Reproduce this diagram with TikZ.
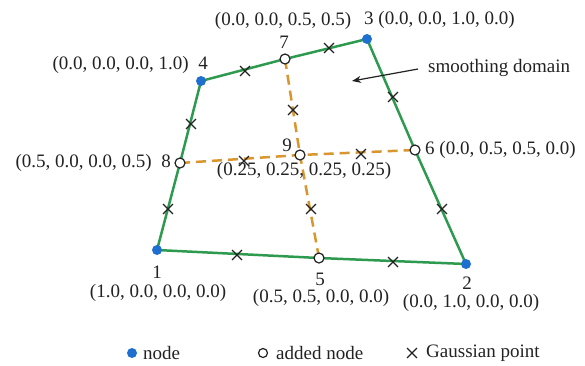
\documentclass[tikz,border=0pt]{standalone}
\usepackage{fontspec}
\setmainfont{Liberation Serif}
\usetikzlibrary{arrows.meta,shapes.misc}
\definecolor{edgegreen}{HTML}{2E9A50}
\definecolor{dashorange}{HTML}{D9962E}
\definecolor{nodeblue}{HTML}{1F6FD0}
\definecolor{txt}{HTML}{222222}
\tikzset{
  lbl/.style={inner sep=0pt, text=txt, font=\fontsize{19}{22}\selectfont},
  edgeline/.style={draw=edgegreen, line width=2.5pt},
  dashline/.style={draw=dashorange, line width=2.5pt, dash pattern=on 10pt off 6pt},
  mainpt/.style={circle, fill=nodeblue, inner sep=0pt, minimum size=10pt},
  addpt/.style={circle, draw=txt, fill=white, line width=1.2pt, inner sep=0pt, minimum size=10pt},
  gpt/.style={cross out, draw=txt, line width=1.3pt, inner sep=0pt, minimum size=8.5pt},
}
\begin{document}
\begin{tikzpicture}[x=1pt, y=-1pt]
\useasboundingbox (0,0) rectangle (585,365);
% coordinates
\coordinate (p1) at (157,250);
\coordinate (p2) at (466,264);
\coordinate (p3) at (367,39);
\coordinate (p4) at (201,81);
\coordinate (p5) at (319,258);
\coordinate (p6) at (415,150);
\coordinate (p7) at (285,59);
\coordinate (p8) at (180,163);
\coordinate (p9) at (300,155);
% dashed cross
\draw[dashline] (p8) -- (p9) -- (p6);
\draw[dashline] (p7) -- (p9) -- (p5);
% quad
\draw[edgeline, line join=round] (p1) -- (p5) -- (p2) -- (p6) -- (p3) -- (p7) -- (p4) -- (p8) -- cycle;
% Gaussian points
\node[gpt] (g1) at (245,71) {};
\node[gpt] (g2) at (329,48) {};
\node[gpt] (g3) at (393,97) {};
\node[gpt] (g4) at (442,209) {};
\node[gpt] (g5) at (237,255) {};
\node[gpt] (g6) at (393,262) {};
\node[gpt] (g7) at (191,124) {};
\node[gpt] (g8) at (168,209) {};
\node[gpt] (g9) at (293,110) {};
\node[gpt] (g10) at (311,209) {};
\node[gpt] (g11) at (244,161) {};
\node[gpt] (g12) at (361,154) {};
% nodes
\node[mainpt] (n1) at (p1) {};
\node[mainpt] (n2) at (p2) {};
\node[mainpt] (n3) at (p3) {};
\node[mainpt] (n4) at (p4) {};
\node[addpt] (n5) at (p5) {};
\node[addpt] (n6) at (p6) {};
\node[addpt] (n7) at (p7) {};
\node[addpt] (n8) at (p8) {};
\node[addpt] (n9) at (p9) {};
% labels
\node[lbl] (l7c) at (283,21) {(0.0, 0.0, 0.5, 0.5)};
\node[lbl] (l7) at (284,42) {7};
\node[lbl, anchor=west] (l3) at (364,20) {3 (0.0, 0.0, 1.0, 0.0)};
\node[lbl, anchor=east] (l4) at (208,65) {(0.0, 0.0, 0.0, 1.0)\enspace 4};
\node[lbl, anchor=east] (l8) at (171,163) {(0.5, 0.0, 0.0, 0.5)\enspace 8};
\node[lbl] (l9) at (287,145) {9};
\node[lbl] (l9c) at (304,171) {(0.25, 0.25, 0.25, 0.25)};
\node[lbl, anchor=west] (l6) at (425,150) {6 (0.0, 0.5, 0.5, 0.0)};
\node[lbl, anchor=west] (lsd) at (428,68) {smoothing domain};
\node[lbl] (l1) at (157,272) {1};
\node[lbl] (l1c) at (158,293) {(1.0, 0.0, 0.0, 0.0)};
\node[lbl] (l5) at (320,279) {5};
\node[lbl] (l5c) at (321,298) {(0.5, 0.5, 0.0, 0.0)};
\node[lbl] (l2) at (467,283) {2};
\node[lbl] (l2c) at (471,303) {(0.0, 1.0, 0.0, 0.0)};
% arrow
\coordinate (atip) at (352,81);
\draw[-{Stealth[length=9pt,width=7pt]}, draw=txt, line width=1.2pt] (lsd.west) ++(-10,1) coordinate (astart) (astart) -- (atip);
% legend
\node[mainpt] (lgn) at (132,353) {};
\node[lbl, anchor=west] (lgnt) at (143,353) {node};
\node[addpt, minimum size=9pt] (lga) at (263,353) {};
\node[lbl, anchor=west] (lgat) at (276,353) {added node};
\node[gpt] (lgg) at (412,353) {};
\node[lbl, anchor=west] (lggt) at (426,353) {Gaussian point};
\end{tikzpicture}
\end{document}
